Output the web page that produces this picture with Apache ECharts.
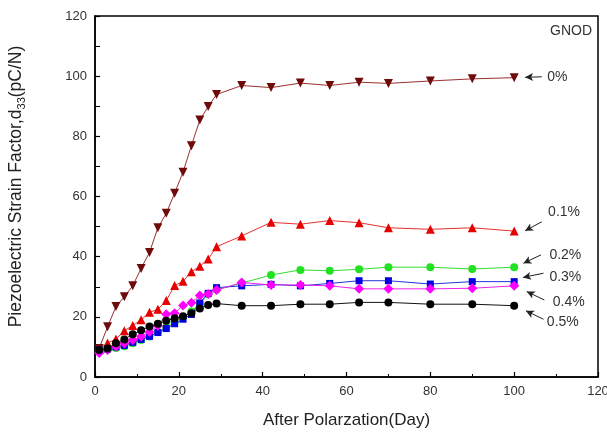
<!DOCTYPE html>
<html>
<head>
<meta charset="utf-8">
<script src="https://cdn.jsdelivr.net/npm/echarts@6/dist/echarts.min.js"></script>
<style>html,body{margin:0;padding:0;background:#fff}#c{width:607px;height:432px}</style>
</head>
<body>
<div id="c"></div>
<script>
// ---- data ----
const days = [1,3,5,7,9,11,13,15,17,19,21,23,25,27,29,35,42,49,56,63,70,80,90,100];
const seriesNames = ['0%','0.1%','0.2%','0.3%','0.4%','0.5%'];
const v0  = [9.5,16.7,23.4,26.7,30.3,36.1,41.4,49.6,54.4,61.1,68.1,76.9,85.4,89.9,93.9,96.9,96.2,97.7,96.9,98.0,97.6,98.4,99.1,99.5];
const v01 = [9.3,11.3,12.6,15.4,17.1,19.0,21.5,22.5,25.4,30.4,31.8,35.0,36.8,39.2,43.3,46.9,51.4,50.8,52.0,51.3,49.6,49.1,49.6,48.5];
const v02 = [9.0,9.2,9.6,10.2,11.2,12.3,13.5,14.9,16.5,18.2,19.9,21.8,24.5,27.5,29.0,31.2,33.9,35.6,35.3,35.8,36.5,36.5,35.9,36.5];
const v03 = [9.0,9.3,10.0,10.5,11.5,12.5,13.5,14.8,16.1,17.7,19.2,20.8,24.6,27.8,29.7,30.3,30.8,30.3,31.1,32.0,32.0,30.9,31.7,31.7];
const v04 = [8.0,9.0,10.1,11.2,12.3,13.5,15.0,17.0,20.9,21.2,23.8,24.7,27.1,27.6,28.9,31.4,30.6,30.6,30.3,29.3,29.3,29.3,29.5,30.3];
const v05 = [9.0,9.5,11.2,12.5,14.2,15.5,16.8,17.7,18.7,19.5,20.2,21.2,22.8,23.9,24.4,23.7,23.7,24.2,24.2,24.8,24.8,24.2,24.2,23.7];
const xTicks = [0,20,40,60,80,100,120];
const yTicks = [0,20,40,60,80,100,120];

// ---- annotation placement (data coordinates) ----
const arrows = [
  [[106.6,99.8],[102.6,99.6]],
  [[106.6,51.6],[102.6,48.6]],
  [[106.4,40.6],[102.2,37.8]],
  [[107.0,34.5],[102.1,33.1]],
  [[107.2,25.6],[103.0,28.4]],
  [[107.0,19.2],[102.8,22.0]]
];
const labelPos = [[107.9,99.8],[108.1,54.7],[108.4,40.6],[108.4,33.3],[109.2,24.9],[107.8,18.4]];

const vals = [v0,v01,v02,v03,v04,v05];
const colors = ['#6e0a0a','#e60000','#22e022','#0000e0','#ff00ff','#000000'];
const lineColors = ['#9b3030','#e83030','#33dd33','#2233dd','#ee22ee','#111111'];
const symbols = ['triangle','triangle','circle','rect','diamond','circle'];
const rot = [180,0,0,0,0,0];
const sizes = [9,9,8,7,10,8];

const chart = echarts.init(document.getElementById('c'));
const font = 'Liberation Sans, Arial, sans-serif';

const series = vals.map((v,i)=>({
  name: seriesNames[i],
  type: 'line',
  data: days.map((d,j)=>[d,v[j]]),
  symbol: symbols[i],
  symbolRotate: rot[i],
  symbolSize: sizes[i],
  showAllSymbol: true,
  itemStyle: {color: colors[i]},
  lineStyle: {color: lineColors[i], width: 1},
  z: 2+i,
  animation: false
}));
series.push({
  type: 'line', data: [], animation: false,
  markLine: {
    silent: true, animation: false,
    symbol: ['none','arrow'], symbolSize: [6,8],
    lineStyle: {color: '#222', width: 1, type: 'solid'},
    label: {show: false},
    data: arrows.map(a=>[{coord:a[0]},{coord:a[1]}])
  }
});

chart.setOption({
  backgroundColor: '#fff',
  animation: false,
  grid: {left: 95, top: 16, right: 9, bottom: 55, outerBoundsMode: 'none', containLabel: false,
    show: true, borderColor: '#000', borderWidth: 1.5},
  xAxis: {
    type: 'value', min: 0, max: 120, interval: 20,
    name: 'After Polarzation(Day)', nameLocation: 'middle', nameGap: 35,
    nameTextStyle: {fontFamily: font, fontSize: 17, color: '#222'},
    axisLine: {show: true, lineStyle: {color: '#000', width: 1.5}},
    axisTick: {show: true, inside: true, length: 5, lineStyle: {color: '#000', width: 1.2}},
    minorTick: {show: true, splitNumber: 2, length: 3, lineStyle: {color: '#000', width: 1}},
    splitLine: {show: false},
    axisLabel: {fontFamily: font, fontSize: 13, color: '#333', margin: 8,
      formatter: v => xTicks.includes(v) ? String(v) : ''}
  },
  yAxis: {
    type: 'value', min: 0, max: 120, interval: 20,
    name: 'Piezoelectric Strain Factor,d{sub|33}(pC/N)', nameLocation: 'middle', nameGap: 68,
    nameTextStyle: {fontFamily: font, fontSize: 17.5, color: '#222', lineHeight: 22, padding: [0,0,0,20],
      rich: {sub: {fontFamily: font, fontSize: 11, color: '#222', verticalAlign: 'bottom', lineHeight: 12}}},
    axisLine: {show: true, lineStyle: {color: '#000', width: 1.5}},
    axisTick: {show: true, inside: true, length: 5, lineStyle: {color: '#000', width: 1.2}},
    minorTick: {show: true, splitNumber: 2, length: 5, lineStyle: {color: '#000', width: 1}},
    splitLine: {show: false},
    axisLabel: {fontFamily: font, fontSize: 13, color: '#333', margin: 8,
      formatter: v => yTicks.includes(v) ? String(v) : ''}
  },
  series: series
});

const g = [{
  type: 'text', right: 15, top: 24,
  style: {text: 'GNOD', font: '14px ' + font, fill: '#333'}
}];
labelPos.forEach((p,i)=>{
  const px = chart.convertToPixel({gridIndex:0}, p);
  g.push({type:'text', x: px[0], y: px[1],
    style: {text: seriesNames[i], font: '14px ' + font, fill: '#333', verticalAlign: 'middle'}});
});
chart.setOption({graphic: g});
</script>
</body>
</html>
